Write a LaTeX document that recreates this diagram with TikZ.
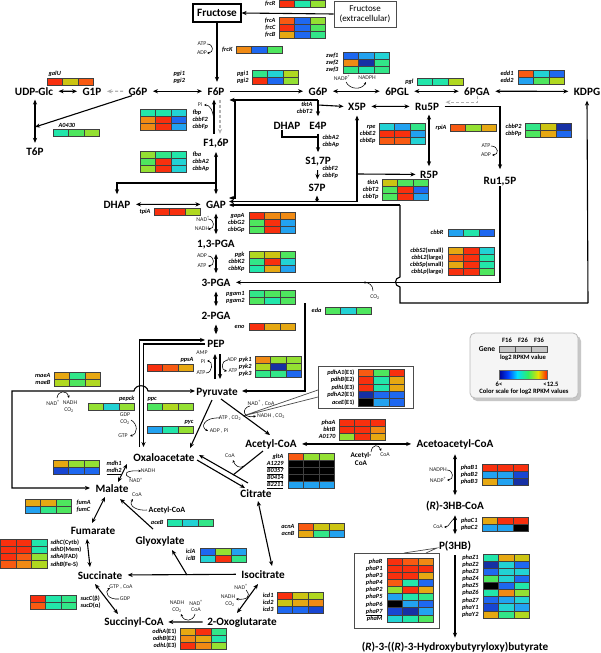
\documentclass[tikz,border=0pt]{standalone}
\usepackage{fontspec}
\setmainfont{Carlito}
\usetikzlibrary{arrows.meta}
\definecolor{Rr}{HTML}{F8300E}
\definecolor{Or}{HTML}{F85A12}
\definecolor{Oo}{HTML}{F08A14}
\definecolor{Aa}{HTML}{E6A812}
\definecolor{Yy}{HTML}{CCC412}
\definecolor{Ly}{HTML}{B0D820}
\definecolor{Ll}{HTML}{94E032}
\definecolor{Gg}{HTML}{4EE65E}
\definecolor{Mg}{HTML}{32E688}
\definecolor{Mm}{HTML}{22E6AA}
\definecolor{Cc}{HTML}{22D2D4}
\definecolor{Kk}{HTML}{22A2F0}
\definecolor{Bb}{HTML}{1E68F0}
\definecolor{Bd}{HTML}{1846D2}
\definecolor{Db}{HTML}{1630A4}
\definecolor{Xx}{HTML}{000000}
\definecolor{lg1}{HTML}{000090}
\definecolor{lg2}{HTML}{0040FF}
\definecolor{lg3}{HTML}{00DDFF}
\definecolor{lg4}{HTML}{30F060}
\definecolor{lg5}{HTML}{E8E000}
\definecolor{lg6}{HTML}{FF2000}
\newcommand{\metf}{\fontsize{11.2}{12}\selectfont\bfseries}
\newcommand{\genef}{\fontsize{6.3}{7}\selectfont\bfseries\itshape}
\newcommand{\coff}{\fontsize{5.8}{6.5}\selectfont}
\newcommand{\legf}{\fontsize{6.6}{7}\selectfont\bfseries}
\newcommand{\hmap}[4][7]{%
  \foreach \rowc [count=\ri from 0] in {#4} {%
    \foreach \cc [count=\ci from 0] in \rowc {%
      \filldraw[fill=\cc, draw=black!75, line width=0.6pt] ({#2+\ci*15.5},{#3+\ri*#1}) rectangle ++(15.5,#1);
    }%
  }%
}
\newcommand{\glr}[5][7]{%
  \foreach \gtext [count=\ri from 0] in {#5} {%
    \node[glab, anchor=base east] (#2-\ri) at (#3,{#4+\ri*#1+5.4}) {\gtext};
  }%
}
\newcommand{\gll}[5][7]{%
  \foreach \gtext [count=\ri from 0] in {#5} {%
    \node[glab, anchor=base west] (#2-\ri) at (#3,{#4+\ri*#1+5.4}) {\gtext};
  }%
}
\newcommand{\cofn}[4]{\node[cof] (#1) at (#2,#3) {#4};}
\begin{document}
\begin{tikzpicture}[x=1pt,y=-1pt,
  line width=1.1pt,
  >={Stealth[length=5pt,width=4.2pt]},
  met/.style={font=\metf, inner sep=0pt, anchor=base},
  glab/.style={font=\genef, inner sep=0pt},
  cof/.style={font=\coff, inner sep=0pt, text=black!85},
  cofa/.style={line width=0.55pt, -{Stealth[length=2.6pt,width=2.4pt]}},
  sh/.style={shorten <=#1, shorten >=#1}]
\fill[white] (0,0) rectangle (600,653);
\useasboundingbox (0,0) rectangle (600,653);

% ---------- legend ----------
\fill[black!22, rounded corners=5pt] (472,336) rectangle (581,401);
\filldraw[fill=gray!8, draw=gray!55, line width=0.8pt, rounded corners=5pt] (470,333) rectangle (578,398);
\node[font=\fontsize{7.5}{8}\selectfont\bfseries, inner sep=0] (lgGene) at (487,349) {Gene};
\node[font=\legf, inner sep=0] (lgA) at (507,340) {F16};
\node[font=\legf, inner sep=0] (lgB) at (523,340) {F26};
\node[font=\legf, inner sep=0] (lgC) at (539,340) {F36};
\foreach \i in {0,1,2} \filldraw[fill=gray!45, draw=black!70, line width=0.6pt] ({499+\i*16},346) rectangle ++(16,6.5);
\node[font=\legf, inner sep=0] (lgV) at (523,358) {log2 RPKM value};
\shade[left color=lg1, right color=lg2] (499,370) rectangle (508,379);
\shade[left color=lg2, right color=lg3] (508,370) rectangle (517,379);
\shade[left color=lg3, right color=lg4] (517,370) rectangle (528,379);
\shade[left color=lg4, right color=lg5] (528,370) rectangle (538,379);
\shade[left color=lg5, right color=lg6] (538,370) rectangle (547,379);
\draw[black!60, line width=0.5pt] (499,370) rectangle (547,379);
\node[font=\legf, inner sep=0] (lgLo) at (499,384) {6<};
\node[font=\legf, inner sep=0] (lgHi) at (551,384) {<12.5};
\node[font=\legf, inner sep=0] (lgT) at (524,392) {Color scale for log2 RPKM values};

% ---------- callout boxes ----------
\filldraw[fill=white, draw=black!70, line width=0.7pt] (318,390) -- (243,416) -- (318,397);
\filldraw[fill=white, draw=black!70, line width=1pt] (318,366) rectangle (413,408);
\filldraw[fill=white, draw=black!70, line width=0.7pt] (404,553) -- (437,548) -- (426,553);
\filldraw[fill=white, draw=black!70, line width=1pt] (354,553) rectangle (439,628);

% ---------- metabolites ----------
\node[met, anchor=center, draw, line width=1.2pt, minimum width=48pt, minimum height=18pt] (Fru) at (217,13) {Fructose};
\node[draw=black!70, line width=0.8pt, minimum width=62pt, minimum height=26pt, align=center, font=\fontsize{9}{10.5}\selectfont, inner sep=0pt] (FruExt) at (365,14) {Fructose\\(extracellular)};
\node[met] (UDPGlc) at (34,95) {UDP-Glc};
\node[met] (G1P) at (92,95) {G1P};
\node[met] (G6Pa) at (138,95) {G6P};
\node[met] (F6P) at (216,95) {F6P};
\node[met] (T6P) at (35,155) {T6P};
\node[met] (F16P) at (216,146) {F1,6P};
\node[met] (G6Pb) at (318,95) {G6P};
\node[met] (PGL) at (397,95) {6PGL};
\node[met] (PGA6) at (477,95) {6PGA};
\node[met] (KDPG) at (587,95) {KDPG};
\node[met] (X5P) at (357,110) {X5P};
\node[met] (Ru5P) at (427,110) {Ru5P};
\node[met] (DHAPm) at (287,129) {DHAP};
\node[met] (E4P) at (318,129) {E4P};
\node[met] (S17P) at (318,164) {S1,7P};
\node[met] (S7P) at (317,191) {S7P};
\node[met] (R5P) at (429,178) {R5P};
\node[met] (Ru15P) at (500,184) {Ru1,5P};
\node[met] (DHAP) at (117,208) {DHAP};
\node[met] (GAP) at (216,208) {GAP};
\node[met] (PGA13) at (216,247) {1,3-PGA};
\node[met] (PGA3) at (216,286) {3-PGA};
\node[met] (PGA2) at (216,319) {2-PGA};
\node[met] (PEP) at (216,347) {PEP};
\node[met] (Pyr) at (217,395) {Pyruvate};
\node[met] (OAA) at (164,461) {Oxaloacetate};
\node[met] (AcCoA) at (271,447) {Acetyl-CoA};
\node[met] (AcAc) at (455,447) {Acetoacetyl-CoA};
\node[met] (Cit) at (256,497) {Citrate};
\node[met] (Mal) at (112,492) {Malate};
\node[met] (Fum) at (93,534) {Fumarate};
\node[met] (Glx) at (160,544) {Glyoxylate};
\node[met] (Suc) at (100,579) {Succinate};
\node[met] (Iso) at (263,578) {Isocitrate};
\node[met] (SucCoA) at (134,625) {Succinyl-CoA};
\node[met] (OG) at (242,625) {2-Oxoglutarate};
\node[met] (HB) at (455,509) {(\textit{R})-3HB-CoA};
\node[met] (P3HB) at (455,549) {P(3HB)};
\node[met] (Fin) at (455,650.5) {(\textit{R})-3-((\textit{R})-3-Hydroxybutyryloxy)butyrate};

% ---------- reactions ----------
\draw[->] (FruExt.west) -- (Fru.east);
\draw[->, shorten >=5pt] (Fru.south) -- (Fru.south |- F6P.north);
\draw[<->, sh=5pt] (UDPGlc) -- (G1P);
\draw[->, sh=5pt, densely dashed, gray!60] (G6Pa) -- (G1P);
\draw[<->, sh=5pt] (G6Pa) -- (F6P);
\draw[<->, sh=4pt] (T6P.north |- UDPGlc.south) -- (T6P.north);
\coordinate (t6j) at (35,127);
\draw[->] ([xshift=-6pt]G6Pa.south) -- (t6j);
\draw[->, sh=5pt] (F6P) -- (G6Pb);
\draw[<->, sh=5pt] (G6Pb) -- (PGL);
\draw[<->, sh=5pt] (PGL) -- (PGA6);
\draw[<->, sh=5pt] (PGA6) -- (KDPG);
\draw[<->, sh=5pt] (X5P) -- (Ru5P);
\draw[->, densely dashed, gray!60, line width=0.9pt] (PGA6.south) |- ([xshift=6pt]Ru5P.north east);
\draw[->, shorten <=5pt, shorten >=7pt] (Ru5P.east) -| (Ru15P.north);
\draw[<->, sh=4pt] (R5P.north |- Ru5P.south) -- (R5P.north);
% transketolase 1
\coordinate (j1) at (318,100);
\coordinate (j0) at (235,100);
\draw[->] (j1) -- (229.5,100);
\draw[->] (j0) |- (229,198);
\draw[->] (j1) -- ([yshift=5pt]E4P.north);
\draw[->] (318,105) -- ([xshift=-4pt]X5P.west);
% transketolase 2
\coordinate (x5j) at (357,201.5);
\draw[->] (x5j) -- (229,201.5);
\draw[->] (x5j) -- ([yshift=-5pt]X5P.south);
\draw[->] (357,174) -- ([xshift=-4pt]R5P.west);
\draw[->] (317,201.5) -- ([yshift=-4pt]S7P.south);
\draw[->, sh=4pt] (E4P) -- (S17P);
\draw ([xshift=-5pt]DHAPm.south) |- (318,137);
\draw[->, sh=4pt] (S17P) -- (S7P);
% eda / KDPG
\coordinate (e1) at (400,205);
\draw[->] (e1) -- (229,205);
\draw (e1) -- (400,277) .. controls (394,278) and (394,286) .. (400,287) -- (400,303) -- (588,303);
\draw[->] (588,303) -- ([yshift=-5pt]KDPG.south);
\draw[->] (305,303) -- (305,391) -- (242,391);
% F6P - F1,6P
\draw[->, sh=4pt] ([xshift=-2pt]F16P.north) -- ([xshift=-2pt]F16P.north |- F6P.south);
\draw[->, densely dashed, gray!60, sh=4pt] ([xshift=4pt]F16P.north |- F6P.south) -- ([xshift=4pt]F16P.north);
\coordinate (fj) at (216,183);
\draw[<->, shorten <=4pt, shorten >=6pt] (F16P.south) -- (fj) -- (GAP.north);
\draw[->, shorten >=6pt] (fj) -| (DHAP.north);
\draw[<->, sh=5pt] (DHAP) -- (GAP);
% lower glycolysis
\draw[<->, sh=5pt] (GAP) -- (PGA13);
\draw[<->, sh=5pt] (PGA13) -- (PGA3);
\draw[<->, sh=5pt] (PGA3) -- (PGA2);
\draw[<->, sh=5pt] (PGA2) -- (PEP);
\draw[->, shorten >=5pt] (Ru15P.south) |- (PGA3.east);
% PEP / OAA
\draw[->] (139.5,447) |- (205,340);
\draw[->] (205,344) -| (143.5,447);
\draw[<->] (90,488) -| (12,391) -- (134,391) .. controls (135,384) and (147,384) .. (148,391) -- (195,391);
\draw[->] (215,379) -- (215,354);
\draw[->] (220,354) -- (220,379);
\draw[->] (212,400) -- (190,448);
\draw[->] (221,399) -- (270,435);
\draw[<->, sh=5pt] (AcCoA) -- (AcAc);
% TCA
\draw[->] (248,483) -- (199,455);
\draw[->] (197,460) -- (245,488);
\draw (263,451) -- (233,475);
\draw[<->] (258,501) -- (272,566);
\draw[->, sh=5pt] (Iso) -- (Suc);
\draw[->] (187,575) -- (172,550);
\draw[->] (153,529) -- (120,499);
\draw[<->] (127,464) -- (118,482);
\draw[<->] (105,497) -- (92,523);
\draw[<->] (87,539) -- (90,567);
\draw[<->] (95,584) -- (118,614);
\draw[<->] (258,584) -- (237,613);
\draw[->, sh=4pt] (OG) -- (SucCoA);
% PHB
\draw[<->, sh=5pt] (AcAc) -- (HB);
\draw[<->, shorten <=4pt, shorten >=6pt] (HB) -- (P3HB);
\draw[->, sh=4pt] (P3HB) -- (Fin);

% ---------- cofactors ----------
\cofn{c1}{202}{44}{ATP} \cofn{c2}{202}{53}{ADP}
\draw[cofa] (207,44) .. controls (214,44) and (214,53) .. (207,53);
\cofn{c3}{342}{78}{NADP\textsuperscript{+}} \cofn{c4}{367}{78}{NADPH}
\draw[cofa] (346,82) .. controls (350,90) and (362,90) .. (366,82);
\cofn{c5}{200}{105}{Pi}
\draw[cofa] (214,121) .. controls (213,110) and (210,105) .. (204,105);
\cofn{c6}{203}{219}{NAD\textsuperscript{+}} \cofn{c7}{202}{229}{NADH}
\draw[cofa] (208,219) .. controls (215,219) and (215,229) .. (208,229);
\cofn{c8}{202}{256}{ADP} \cofn{c9}{202}{266}{ATP}
\draw[cofa] (208,256) .. controls (215,256) and (215,266) .. (208,266);
\cofn{c10}{486}{146}{ATP} \cofn{c11}{486}{155}{ADP}
\draw[cofa] (491,146) .. controls (499,146) and (499,155) .. (492,155);
\cofn{c12}{375}{297}{CO\textsubscript{2}}
\draw[cofa] (373,291) .. controls (373,285) and (369,282.5) .. (363,282.5);
\cofn{c13}{202}{353}{AMP} \cofn{c14}{203}{361}{Pi} \cofn{c15}{201}{373}{ATP}
\draw[cofa] (206,373) .. controls (213,373) and (213,361) .. (207,361);
\cofn{c16}{232}{360}{ADP} \cofn{c17}{233}{371}{ATP}
\draw[cofa] (227,360) .. controls (221,361) and (221,370) .. (227,371);
\cofn{c18}{53}{403}{NAD\textsuperscript{+}} \cofn{c19}{70}{403}{NADH} \cofn{c20}{69}{410}{CO\textsubscript{2}}
\draw[cofa] (57,398) .. controls (58,390) and (67,390) .. (69,398);
\cofn{c21}{125}{415}{GDP} \cofn{c22}{125}{422}{CO\textsubscript{2}} \cofn{c23}{123}{436}{GTP}
\draw[cofa, {Stealth[length=2.6pt,width=2.4pt]}-] (130,436) .. controls (138,434) and (138,424) .. (131,420);
\cofn{c24}{230}{418}{ATP , CO\textsubscript{2}} \cofn{c25}{219}{431}{ADP , Pi}
\draw[cofa] (220,418) .. controls (204,417) and (200,427) .. (208,431);
\cofn{c26}{261}{403}{NAD\textsuperscript{+} , CoA} \cofn{c27}{271}{416}{NADH , CO\textsubscript{2}}
\draw[cofa] (250,406) .. controls (241,408) and (243,419) .. (256,416);
\cofn{c28}{230}{456}{CoA}
\draw[cofa] (244,466) .. controls (240,469) and (235,466) .. (233,460);
\node[font=\fontsize{7.2}{8}\selectfont\bfseries, align=center, inner sep=0pt] (acin) at (361,459) {Acetyl-\\CoA};
\cofn{c29}{385}{455}{CoA}
\draw[cofa] (371,452) .. controls (372,444) and (379,444) .. (381,451);
\cofn{c30}{438}{470}{NADPH} \cofn{c31}{438}{480}{NADP\textsuperscript{+}}
\draw[cofa] (447,470) .. controls (454,470) and (454,480) .. (447,480);
\cofn{c32}{438}{527}{CoA}
\draw[cofa] (455,518) .. controls (451,520) and (449,527) .. (444,527);
\cofn{c33}{148}{471}{NADH} \cofn{c34}{136}{480.5}{NAD\textsuperscript{+}}
\draw[cofa] (131,478) .. controls (121,474) and (127,470) .. (141,471);
\cofn{c35}{137}{495}{CoA}
\node[font=\fontsize{8}{9}\selectfont\bfseries, inner sep=0pt] (acb) at (167,510) {Acetyl-CoA};
\draw[cofa] (147,510) .. controls (137,511) and (128,506) .. (133,499);
\cofn{c36}{121}{587}{GTP , CoA} \cofn{c37}{125}{599}{GDP}
\draw[cofa] (119,599) .. controls (108,600) and (104,592) .. (110,588);
\cofn{c38}{241}{587}{NAD\textsuperscript{+}} \cofn{c39}{228}{597}{NADH} \cofn{c40}{230}{604}{CO\textsubscript{2}}
\draw[cofa] (246,590) .. controls (252,597) and (246,600) .. (236,599);
\cofn{c41}{177}{603}{NADH} \cofn{c42}{177}{610}{CO\textsubscript{2}} \cofn{c43}{196}{603}{NAD\textsuperscript{+}} \cofn{c44}{196}{610}{CoA}
\draw[cofa] (195,614) .. controls (193,622) and (184,622) .. (181,614);

% ---------- heatmaps and gene labels ----------
\hmap{279}{0}{{Rr,Mm,Ll}}
\glr{frcR}{276}{0}{frcR}
\hmap{279}{17}{{Or,Bb,Ll},{Rr,Bb,Gg},{Aa,Bb,Mg}}
\glr{frc}{276}{17}{frcA,frcC,frcB}
\hmap{236}{46}{{Oo,Bb,Gg}}
\glr{frcK}{233}{46}{frcK}
\hmap{47}{78}{{Rr,Yy,Or}}
\node[glab, anchor=base west] (galU) at (48,75.5) {galU};
\hmap{252}{70}{{Mg,Cc,Ly},{Rr,Bb,Ll}}
\glr{pgib}{249}{70}{pgi1,pgi2}
\gll{pgia}{173}{70}{pgi1,pgi2}
\hmap{53}{129}{{Mm,Gg,Ll}}
\node[glab, anchor=base west] (A0430) at (58,127.5) {A0430};
\hmap{140}{109}{{Mm,Mm,Cc},{Oo,Rr,Bb},{Oo,Rr,Kk}}
\gll{fbp}{192}{109}{fbp,cbbF2,cbbFp}
\hmap{140}{151}{{Ll,Mg,Mm},{Gg,Rr,Cc},{Ll,Rr,Cc}}
\gll{fba}{192}{151}{fba,cbbA2,cbbAp}
\hmap{343}{52}{{Bb,Kk,Cc},{Oo,Db,Mg},{Mg,Mm,Mg}}
\glr{zwf}{339}{52}{zwf1,zwf2,zwf3}
\hmap{417}{78}{{Mm,Mm,Ly}}
\glr{pgl}{414}{78}{pgl}
\hmap{518}{70}{{Or,Cc,Bb},{Kk,Gg,Ly}}
\glr{edd}{514}{70}{edd1,edd2}
\hmap{379}{123}{{Cc,Kk,Mg},{Rr,Rr,Kk},{Or,Or,Cc}}
\glr{rpe}{376}{123}{rpe,cbbE2,cbbEp}
\hmap{450}{124}{{Or,Ll,Aa}}
\glr{rpiA}{447}{124}{rpiA}
\hmap{525}{123}{{Mg,Yy,Db},{Gg,Aa,Bb}}
\glr{cbbP}{522}{123}{cbbP2,cbbPp}
\glr{tktb}{313}{101}{tktA,cbbT2}
\gll{cbbA}{322}{134}{cbbA2,cbbAp}
\gll{cbbF}{322}{165}{cbbF2,cbbFp}
\hmap{382}{179}{{Yy,Gg,Gg},{Gg,Rr,Bb},{Gg,Rr,Kk}}
\glr{tktc}{379}{179}{tktA,cbbT2,cbbTp}
\hmap{448}{229}{{Kk,Mm,Bb}}
\glr{cbbR}{444}{229}{cbbR}
\hmap{448}{247}{{Aa,Rr,Cc},{Or,Rr,Mm},{Aa,Rr,Mm},{Rr,Rr,Gg}}
\glr{cbbS}{444}{247}{cbbS2\textup{(small)},cbbL2\textup{(large)},cbbSp\textup{(small)},cbbLp\textup{(large)}}
\hmap{154}{208}{{Rr,Rr,Ly}}
\glr{tpiA}{151}{208}{tpiA}
\hmap{249}{212}{{Rr,Oo,Oo},{Gg,Rr,Kk},{Gg,Rr,Kk}}
\glr{gap}{245}{212}{gapA,cbbG2,cbbGp}
\hmap{249}{251}{{Ly,Yy,Gg},{Mg,Rr,Cc},{Mm,Aa,Kk}}
\glr{pgk}{245}{251}{pgk,cbbK2,cbbKp}
\hmap{249}{290}{{Mg,Gg,Gg},{Gg,Mm,Gg}}
\glr{pgam}{245}{290}{pgam1,pgam2}
\hmap{249}{323}{{Rr,Aa,Aa}}
\glr{eno}{245}{323}{eno}
\hmap{325}{307}{{Gg,Cc,Gg}}
\glr{eda}{322}{307}{eda}
\hmap{255}{356}{{Oo,Ll,Ll},{Ly,Db,Ll},{Mg,Mg,Bb}}
\glr{pyk}{252}{356}{pyk1,pyk2,pyk3}
\hmap{147}{364}{{Rr,Or,Aa}}
\glr{ppsA}{194}{356}{ppsA}
\hmap{54}{372}{{Aa,Mg,Aa},{Ly,Gg,Ly}}
\glr{mae}{51}{372}{maeA,maeB}
\hmap{88}{403}{{Ll,Cc,Ll}}
\glr{pepck}{135}{395}{pepck}
\hmap{147}{403}{{Gg,Ly,Ll}}
\gll{ppc}{147}{395}{ppc}
\hmap{147}{426}{{Kk,Mm,Ll}}
\glr{pyc}{194}{418}{pyc}
\hmap[7.4]{358}{369}{{Or,Gg,Rr},{Rr,Mm,Aa},{Rr,Mm,Aa},{Db,Bb,Bb},{Xx,Kk,Bb}}
\glr[7.4]{pdh}{355}{369}{pdhA1\textup{(E1)},pdhB\textup{(E2)},pdhL\textup{(E3)},pdhA2\textup{(E1)},aceE\textup{(E1)}}
\hmap{339}{419}{{Rr,Rr,Rr},{Rr,Rr,Oo},{Ll,Rr,Aa}}
\glr{phaA}{336}{419}{phaA,bktB,A0170}
\hmap{288}{453}{{Or,Ll,Ll},{Xx,Xx,Xx},{Xx,Xx,Xx},{Xx,Xx,Xx},{Kk,Kk,Kk}}
\glr{gltA}{284}{453}{gltA,\underline{A1229},\underline{B0357},\underline{B0414},\underline{B2211}}
\hmap{482}{464}{{Rr,Rr,Rr},{Kk,Kk,Bd},{Aa,Kk,Db}}
\glr{phaB}{478}{464}{phaB1,phaB2,phaB3}
\hmap{53}{460}{{Aa,Ll,Ll},{Bd,Bb,Bb}}
\gll{mdh}{106}{460}{mdh1,\underline{mdh2}}
\hmap{167}{519}{{Mm,Cc,Mg}}
\glr{aceB}{164}{519}{aceB}
\hmap{25}{499}{{Aa,Aa,Gg},{Kk,Mg,Gg}}
\gll{fum}{76}{499}{fumA,fumC}
\hmap{200}{548}{{Bb,Ll,Kk},{Cc,Rr,Mg}}
\glr{icl}{196}{548}{iclA,iclB}
\hmap[7.2]{0.5}{539}{{Rr,Rr,Mm},{Rr,Rr,Mm},{Rr,Or,Ll},{Or,Oo,Ly}}
\gll[7.2]{sdh}{50}{539}{sdhC\textup{(Cytb)},sdhD\textup{(Mem)},sdhA\textup{(FAD)},sdhB\textup{(Fe-S)}}
\hmap{298}{523}{{Or,Yy,Yy},{Aa,Mg,Kk}}
\glr{acn}{295}{523}{acnA,acnB}
\hmap{277}{592}{{Rr,Yy,Ly},{Yy,Aa,Oo},{Bb,Bb,Bd}}
\glr{icd}{274}{592}{icd1,icd2,icd3}
\hmap{30}{595}{{Rr,Mm,Mg},{Or,Mm,Mg}}
\gll{suc}{80}{595}{sucC\textup{(β)},sucD\textup{(α)}}
\hmap{180}{628}{{Aa,Rr,Mg},{Oo,Aa,Mm},{Rr,Oo,Ll}}
\glr{odh}{177}{628}{odhA\textup{(E1)},odhB\textup{(E2)},odhL\textup{(E3)}}
\hmap{482}{517}{{Aa,Rr,Rr},{Kk,Kk,Xx}}
\glr{phaC}{478}{517}{phaC1,phaC2}
\hmap[7.1]{387}{558}{{Rr,Or,Oo},{Rr,Rr,Rr},{Rr,Rr,Aa},{Or,Mm,Bb},{Ll,Rr,Aa},{Kk,Mm,Mg},{Xx,Kk,Bb},{Bd,Db,Kk},{Cc,Mm,Gg}}
\glr[7.1]{phaR}{383}{558}{phaR,phaP1,phaP3,phaP4,phaP2,phaP5,phaP6,\underline{phaP7},phaM}
\hmap[7.1]{483}{554}{{Mm,Aa,Yy},{Db,Cc,Bb},{Bb,Cc,Cc},{Gg,Cc,Bb},{Xx,Bb,Mm},{Mm,Oo,Ll},{Bb,Kk,Cc},{Bd,Cc,Kk},{Aa,Mg,Ly}}
\glr[7.1]{phaZ}{479}{554}{phaZ1,phaZ2,phaZ3,phaZ4,phaZ5,phaZ6,phaZ7,phaY1,phaY2}
\end{tikzpicture}
\end{document}
